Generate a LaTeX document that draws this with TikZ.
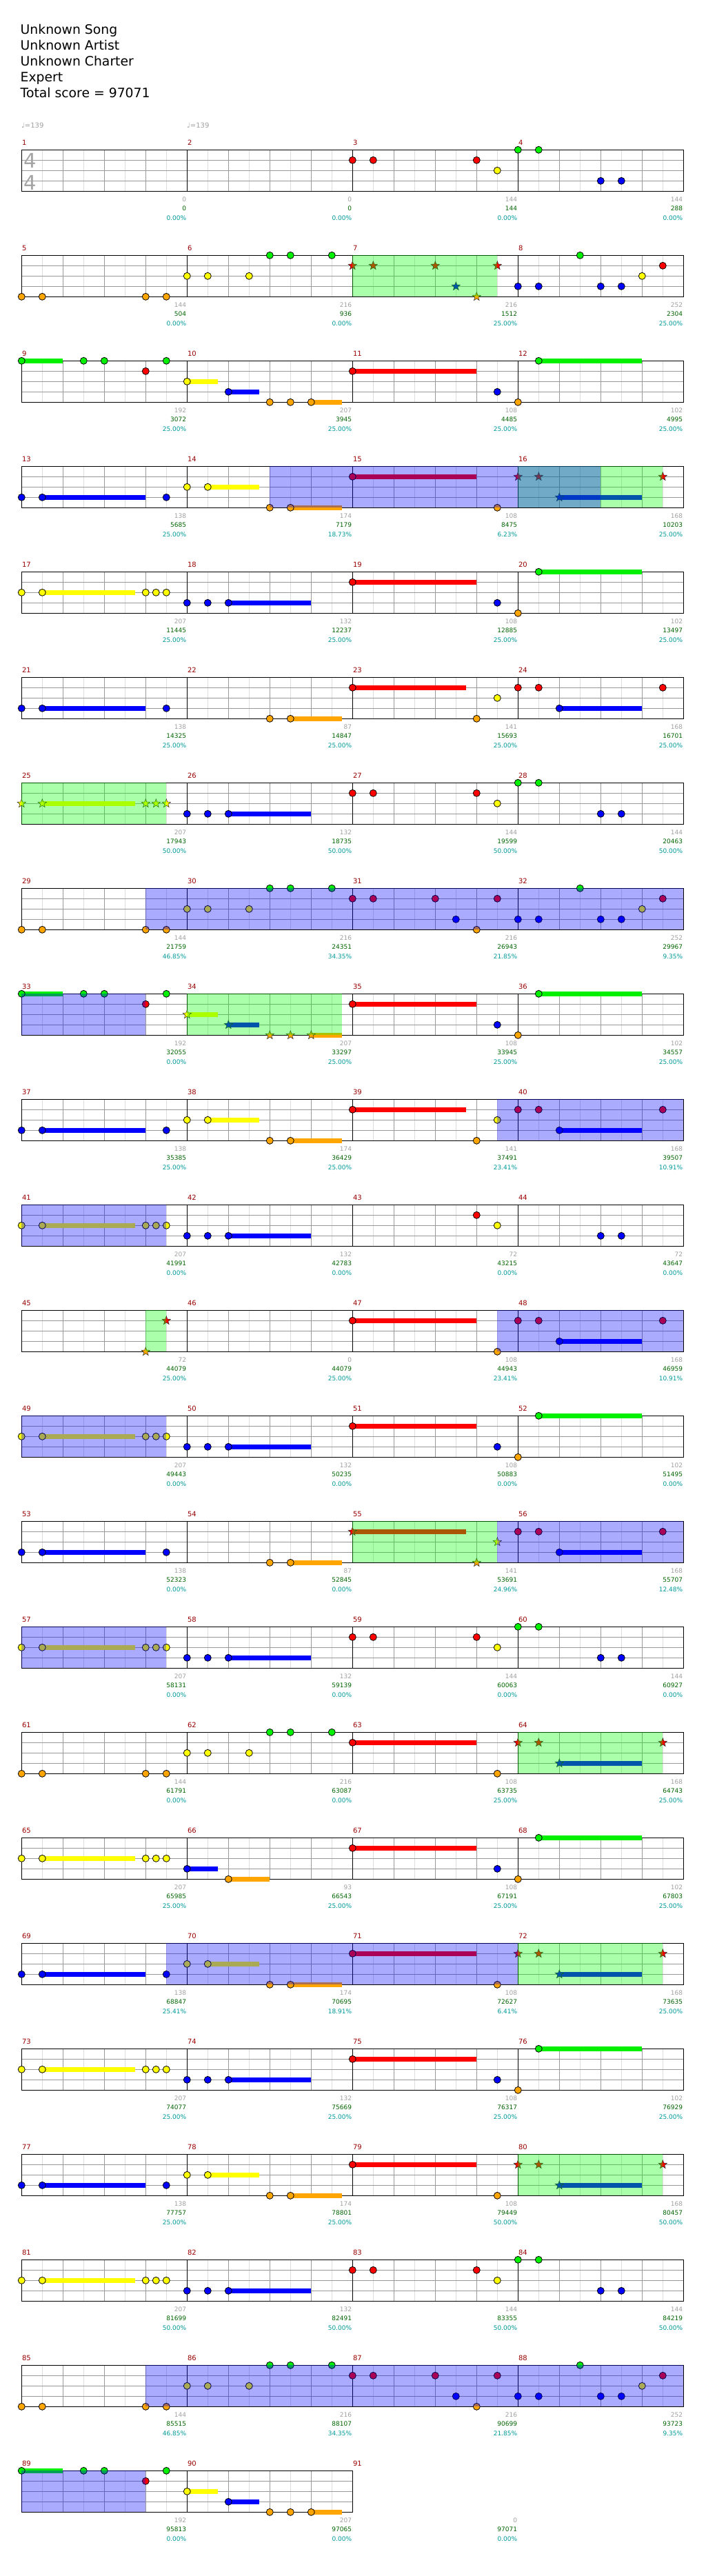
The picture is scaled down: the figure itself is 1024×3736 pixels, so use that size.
\documentclass[tikz,border=0pt]{standalone}
\usepackage{fontspec}
\setmainfont{DejaVu Sans}
\usetikzlibrary{shapes.geometric}
\definecolor{lane0}{RGB}{0,240,0}
\definecolor{lane1}{RGB}{255,0,0}
\definecolor{lane2}{RGB}{255,255,0}
\definecolor{lane3}{RGB}{0,0,255}
\definecolor{lane4}{RGB}{255,165,0}
\definecolor{gridlt}{RGB}{221,221,221}
\definecolor{griddk}{RGB}{153,153,153}
\definecolor{mnumc}{RGB}{153,0,0}
\definecolor{cntc}{RGB}{160,160,160}
\definecolor{scrc}{RGB}{0,100,0}
\definecolor{pctc}{RGB}{0,153,153}
\definecolor{ovG}{RGB}{0,255,0}
\definecolor{ovB}{RGB}{0,0,255}
\definecolor{tsig}{RGB}{165,165,165}
\tikzset{
  notec/.style={circle, draw=black, line width=0.8pt, inner sep=0pt, minimum size=10pt},
  starn/.style={star, star points=5, star point ratio=2.4, draw=black!85, line width=0.5pt, inner sep=0pt, minimum size=13pt},
  mnum/.style={text=mnumc, font=\fontsize{10}{12}\selectfont, inner sep=0pt, anchor=base west},
  cntf/.style={text=cntc, font=\fontsize{9}{10}\selectfont, inner sep=0pt, anchor=base east},
  scrf/.style={text=scrc, font=\fontsize{9}{10}\selectfont, inner sep=0pt, anchor=base east},
  pctf/.style={text=pctc, font=\fontsize{9}{10}\selectfont, inner sep=0pt, anchor=base east},
  hdr/.style={font=\fontsize{18.8}{22}\selectfont, inner sep=0pt, anchor=base west},
  tempof/.style={text=cntc, font=\fontsize{10}{12}\selectfont, inner sep=0pt, anchor=base west},
  tsigf/.style={text=tsig, font=\fontsize{29}{30}\selectfont, inner sep=0pt, anchor=base west},
  gl/.style={line width=1pt}
}
\newcount\nodecnt
\def\RT{0}
\newcommand\SetRow[1]{\pgfmathsetmacro\RT{217.3+153*(#1-1)}}
\newcommand\Nt[2]{\global\advance\nodecnt by 1\relax
  \node[notec, fill=lane#1] (n\the\nodecnt) at ({31.3+30*#2},{\RT+15*#1}) {};}
\newcommand\St[2]{\global\advance\nodecnt by 1\relax
  \node[starn, fill=lane#1] (n\the\nodecnt) at ({31.3+30*#2},{\RT+15*#1}) {};}
\newcommand\Su[3]{\fill[lane#1] ({31.3+30*#2},{\RT+15*#1-3.4}) rectangle ({31.3+30*#3},{\RT+15*#1+3.4});}
\newcommand\Ov[3]{\fill[ov#1, fill opacity=0.333] ({31.3+30*#2},\RT) rectangle ({31.3+30*#3},{\RT+60});}
\newcommand\Nums[4]{\global\advance\nodecnt by 1\relax
  \node[cntf] (c\the\nodecnt) at ({31.3+240*#1-1},{\RT+75.2}) {#2};
  \node[scrf] (s\the\nodecnt) at ({31.3+240*#1-1},{\RT+88.4}) {#3};
  \node[pctf] (p\the\nodecnt) at ({31.3+240*#1-1},{\RT+101.7}) {#4\%};}
\newcommand\Staff[2]{%
  \pgfmathsetmacro\xe{31.3+240*#2}%
  \pgfmathtruncatemacro\ne{8*#2}%
  \pgfmathtruncatemacro\nl{8*#2-1}%
  \pgfmathtruncatemacro\nk{8*#2-2}%
  \pgfmathtruncatemacro\nm{#2-1}%
  \foreach \i in {1,3,...,\nl} {\draw[gridlt, gl] ({31.3+30*\i},\RT) -- ({31.3+30*\i},{\RT+60});}
  \foreach \k in {1,2,3} {\draw[griddk, gl] (31.3,{\RT+15*\k}) -- (\xe,{\RT+15*\k});}
  \foreach \i in {2,4,...,\nk} {\draw[griddk, gl] ({31.3+30*\i},\RT) -- ({31.3+30*\i},{\RT+60});}
  \foreach \i in {0,8,...,\ne} {\draw[black, gl] ({31.3+30*\i},\RT) -- ({31.3+30*\i},{\RT+60});}
  \draw[black, gl] (31.3,\RT) rectangle (\xe,{\RT+60});
  \foreach \j in {0,...,\nm} {\pgfmathtruncatemacro\mn{#1+\j}
    \node[mnum] (m\mn) at ({31.3+240*\j+0.5},{\RT-6.6}) {\mn};}
}
\begin{document}
\begin{tikzpicture}[x=1pt,y=-1pt]
\fill[white] (0,0) rectangle (1024,3736);
\useasboundingbox (0,0) rectangle (1024,3736);
\node[hdr] (h1) at (29.5,50) {Unknown Song};
\node[hdr] (h2) at (29.5,72.7) {Unknown Artist};
\node[hdr] (h3) at (29.5,95.5) {Unknown Charter};
\node[hdr] (h4) at (29.5,118.3) {Expert};
\node[hdr] (h5) at (29.5,141.5) {Total score = 97071};
\node[tempof] (t1) at (31,185) {♩=139};
\node[tempof] (t2) at (271,185) {♩=139};
% ---------- row 1
\SetRow{1}\Staff{1}{4}
\node[tsigf] (ts1) at (34.3,{\RT+26}) {4};
\node[tsigf] (ts2) at (34.3,{\RT+57.7}) {4};
\Nt1{16}\Nt1{17}\Nt1{22}\Nt2{23}\Nt0{24}\Nt0{25}\Nt3{28}\Nt3{29}
\Nums{1}{0}{0}{0.00}\Nums{2}{0}{0}{0.00}\Nums{3}{144}{144}{0.00}\Nums{4}{144}{288}{0.00}
% ---------- row 2
\SetRow{2}\Staff{5}{4}
\Nt4{0}\Nt4{1}\Nt4{6}\Nt4{7}\Nt2{8}\Nt2{9}\Nt2{11}\Nt0{12}\Nt0{13}\Nt0{15}
\St1{16}\St1{17}\St1{20}\St3{21}\St4{22}\St1{23}
\Nt3{24}\Nt3{25}\Nt0{27}\Nt3{28}\Nt3{29}\Nt2{30}\Nt1{31}
\Ov{G}{16}{23}
\Nums{1}{144}{504}{0.00}\Nums{2}{216}{936}{0.00}\Nums{3}{216}{1512}{25.00}\Nums{4}{252}{2304}{25.00}
% ---------- row 3
\SetRow{3}\Staff{9}{4}
\Su0{0}{2}\Nt0{0}\Nt0{3}\Nt0{4}\Nt0{7}\Nt1{6}\Su2{8}{9.5}\Nt2{8}\Su3{10}{11.5}\Nt3{10}
\Nt4{12}\Nt4{13}\Su4{14}{15.5}\Nt4{14}\Su1{16}{22}\Nt1{16}\Nt3{23}\Nt4{24}\Su0{25}{30}\Nt0{25}
\Nums{1}{192}{3072}{25.00}\Nums{2}{207}{3945}{25.00}\Nums{3}{108}{4485}{25.00}\Nums{4}{102}{4995}{25.00}
% ---------- row 4
\SetRow{4}\Staff{13}{4}
\Su3{1}{6}\Nt3{0}\Nt3{1}\Nt3{7}\Nt2{8}\Su2{9}{11.5}\Nt2{9}\Nt4{12}\Su4{13}{15.5}\Nt4{13}
\Su1{16}{22}\Nt1{16}\Nt4{23}\St1{24}\St1{25}\St1{31}\Su3{26}{30}\St3{26}
\Ov{G}{24}{31}\Ov{B}{12}{28}
\Nums{1}{138}{5685}{25.00}\Nums{2}{174}{7179}{18.73}\Nums{3}{108}{8475}{6.23}\Nums{4}{168}{10203}{25.00}
% ---------- row 5
\SetRow{5}\Staff{17}{4}
\Nt2{0}\Su2{1}{5.5}\Nt2{1}\Nt2{6}\Nt2{6.5}\Nt2{7}\Nt3{8}\Nt3{9}\Su3{10}{14}\Nt3{10}
\Su1{16}{22}\Nt1{16}\Nt3{23}\Nt4{24}\Su0{25}{30}\Nt0{25}
\Nums{1}{207}{11445}{25.00}\Nums{2}{132}{12237}{25.00}\Nums{3}{108}{12885}{25.00}\Nums{4}{102}{13497}{25.00}
% ---------- row 6
\SetRow{6}\Staff{21}{4}
\Nt3{0}\Su3{1}{6}\Nt3{1}\Nt3{7}\Nt4{12}\Su4{13}{15.5}\Nt4{13}
\Su1{16}{21.5}\Nt1{16}\Nt4{22}\Nt2{23}\Nt1{24}\Nt1{25}\Nt1{31}\Su3{26}{30}\Nt3{26}
\Nums{1}{138}{14325}{25.00}\Nums{2}{87}{14847}{25.00}\Nums{3}{141}{15693}{25.00}\Nums{4}{168}{16701}{25.00}
% ---------- row 7
\SetRow{7}\Staff{25}{4}
\St2{0}\Su2{1}{5.5}\St2{1}\St2{6}\St2{6.5}\St2{7}\Nt3{8}\Nt3{9}\Su3{10}{14}\Nt3{10}
\Nt1{16}\Nt1{17}\Nt1{22}\Nt2{23}\Nt0{24}\Nt0{25}\Nt3{28}\Nt3{29}
\Ov{G}{0}{7}
\Nums{1}{207}{17943}{50.00}\Nums{2}{132}{18735}{50.00}\Nums{3}{144}{19599}{50.00}\Nums{4}{144}{20463}{50.00}
% ---------- row 8
\SetRow{8}\Staff{29}{4}
\Nt4{0}\Nt4{1}\Nt4{6}\Nt4{7}\Nt2{8}\Nt2{9}\Nt2{11}\Nt0{12}\Nt0{13}\Nt0{15}
\Nt1{16}\Nt1{17}\Nt1{20}\Nt3{21}\Nt4{22}\Nt1{23}
\Nt3{24}\Nt3{25}\Nt0{27}\Nt3{28}\Nt3{29}\Nt2{30}\Nt1{31}
\Ov{B}{6}{32}
\Nums{1}{144}{21759}{46.85}\Nums{2}{216}{24351}{34.35}\Nums{3}{216}{26943}{21.85}\Nums{4}{252}{29967}{9.35}
% ---------- row 9
\SetRow{9}\Staff{33}{4}
\Su0{0}{2}\Nt0{0}\Nt0{3}\Nt0{4}\Nt0{7}\Nt1{6}\Su2{8}{9.5}\St2{8}\Su3{10}{11.5}\St3{10}
\St4{12}\St4{13}\Su4{14}{15.5}\St4{14}\Su1{16}{22}\Nt1{16}\Nt3{23}\Nt4{24}\Su0{25}{30}\Nt0{25}
\Ov{G}{8}{15.5}\Ov{B}{0}{6}
\Nums{1}{192}{32055}{0.00}\Nums{2}{207}{33297}{25.00}\Nums{3}{108}{33945}{25.00}\Nums{4}{102}{34557}{25.00}
% ---------- row 10
\SetRow{10}\Staff{37}{4}
\Nt3{0}\Su3{1}{6}\Nt3{1}\Nt3{7}\Nt2{8}\Su2{9}{11.5}\Nt2{9}\Nt4{12}\Su4{13}{15.5}\Nt4{13}
\Su1{16}{21.5}\Nt1{16}\Nt4{22}\Nt2{23}\Nt1{24}\Nt1{25}\Nt1{31}\Su3{26}{30}\Nt3{26}
\Ov{B}{23}{32}
\Nums{1}{138}{35385}{25.00}\Nums{2}{174}{36429}{25.00}\Nums{3}{141}{37491}{23.41}\Nums{4}{168}{39507}{10.91}
% ---------- row 11
\SetRow{11}\Staff{41}{4}
\Nt2{0}\Su2{1}{5.5}\Nt2{1}\Nt2{6}\Nt2{6.5}\Nt2{7}\Nt3{8}\Nt3{9}\Su3{10}{14}\Nt3{10}
\Nt1{22}\Nt2{23}\Nt3{28}\Nt3{29}
\Ov{B}{0}{7}
\Nums{1}{207}{41991}{0.00}\Nums{2}{132}{42783}{0.00}\Nums{3}{72}{43215}{0.00}\Nums{4}{72}{43647}{0.00}
% ---------- row 12
\SetRow{12}\Staff{45}{4}
\St4{6}\St1{7}\Su1{16}{22}\Nt1{16}\Nt4{23}\Nt1{24}\Nt1{25}\Nt1{31}\Su3{26}{30}\Nt3{26}
\Ov{G}{6}{7}\Ov{B}{23}{32}
\Nums{1}{72}{44079}{25.00}\Nums{2}{0}{44079}{25.00}\Nums{3}{108}{44943}{23.41}\Nums{4}{168}{46959}{10.91}
% ---------- row 13
\SetRow{13}\Staff{49}{4}
\Nt2{0}\Su2{1}{5.5}\Nt2{1}\Nt2{6}\Nt2{6.5}\Nt2{7}\Nt3{8}\Nt3{9}\Su3{10}{14}\Nt3{10}
\Su1{16}{22}\Nt1{16}\Nt3{23}\Nt4{24}\Su0{25}{30}\Nt0{25}
\Ov{B}{0}{7}
\Nums{1}{207}{49443}{0.00}\Nums{2}{132}{50235}{0.00}\Nums{3}{108}{50883}{0.00}\Nums{4}{102}{51495}{0.00}
% ---------- row 14
\SetRow{14}\Staff{53}{4}
\Nt3{0}\Su3{1}{6}\Nt3{1}\Nt3{7}\Nt4{12}\Su4{13}{15.5}\Nt4{13}
\Su1{16}{21.5}\St1{16}\St4{22}\St2{23}\Nt1{24}\Nt1{25}\Nt1{31}\Su3{26}{30}\Nt3{26}
\Ov{G}{16}{23}\Ov{B}{23}{32}
\Nums{1}{138}{52323}{0.00}\Nums{2}{87}{52845}{0.00}\Nums{3}{141}{53691}{24.96}\Nums{4}{168}{55707}{12.48}
% ---------- row 15
\SetRow{15}\Staff{57}{4}
\Nt2{0}\Su2{1}{5.5}\Nt2{1}\Nt2{6}\Nt2{6.5}\Nt2{7}\Nt3{8}\Nt3{9}\Su3{10}{14}\Nt3{10}
\Nt1{16}\Nt1{17}\Nt1{22}\Nt2{23}\Nt0{24}\Nt0{25}\Nt3{28}\Nt3{29}
\Ov{B}{0}{7}
\Nums{1}{207}{58131}{0.00}\Nums{2}{132}{59139}{0.00}\Nums{3}{144}{60063}{0.00}\Nums{4}{144}{60927}{0.00}
% ---------- row 16
\SetRow{16}\Staff{61}{4}
\Nt4{0}\Nt4{1}\Nt4{6}\Nt4{7}\Nt2{8}\Nt2{9}\Nt2{11}\Nt0{12}\Nt0{13}\Nt0{15}
\Su1{16}{22}\Nt1{16}\Nt4{23}\St1{24}\St1{25}\St1{31}\Su3{26}{30}\St3{26}
\Ov{G}{24}{31}
\Nums{1}{144}{61791}{0.00}\Nums{2}{216}{63087}{0.00}\Nums{3}{108}{63735}{25.00}\Nums{4}{168}{64743}{25.00}
% ---------- row 17
\SetRow{17}\Staff{65}{4}
\Nt2{0}\Su2{1}{5.5}\Nt2{1}\Nt2{6}\Nt2{6.5}\Nt2{7}\Su3{8}{9.5}\Nt3{8}\Su4{10}{12}\Nt4{10}
\Su1{16}{22}\Nt1{16}\Nt3{23}\Nt4{24}\Su0{25}{30}\Nt0{25}
\Nums{1}{207}{65985}{25.00}\Nums{2}{93}{66543}{25.00}\Nums{3}{108}{67191}{25.00}\Nums{4}{102}{67803}{25.00}
% ---------- row 18
\SetRow{18}\Staff{69}{4}
\Su3{1}{6}\Nt3{0}\Nt3{1}\Nt3{7}\Nt2{8}\Su2{9}{11.5}\Nt2{9}\Nt4{12}\Su4{13}{15.5}\Nt4{13}
\Su1{16}{22}\Nt1{16}\Nt4{23}\St1{24}\St1{25}\St1{31}\Su3{26}{30}\St3{26}
\Ov{G}{24}{31}\Ov{B}{7}{24}
\Nums{1}{138}{68847}{25.41}\Nums{2}{174}{70695}{18.91}\Nums{3}{108}{72627}{6.41}\Nums{4}{168}{73635}{25.00}
% ---------- row 19
\SetRow{19}\Staff{73}{4}
\Nt2{0}\Su2{1}{5.5}\Nt2{1}\Nt2{6}\Nt2{6.5}\Nt2{7}\Nt3{8}\Nt3{9}\Su3{10}{14}\Nt3{10}
\Su1{16}{22}\Nt1{16}\Nt3{23}\Nt4{24}\Su0{25}{30}\Nt0{25}
\Nums{1}{207}{74077}{25.00}\Nums{2}{132}{75669}{25.00}\Nums{3}{108}{76317}{25.00}\Nums{4}{102}{76929}{25.00}
% ---------- row 20
\SetRow{20}\Staff{77}{4}
\Su3{1}{6}\Nt3{0}\Nt3{1}\Nt3{7}\Nt2{8}\Su2{9}{11.5}\Nt2{9}\Nt4{12}\Su4{13}{15.5}\Nt4{13}
\Su1{16}{22}\Nt1{16}\Nt4{23}\St1{24}\St1{25}\St1{31}\Su3{26}{30}\St3{26}
\Ov{G}{24}{31}
\Nums{1}{138}{77757}{25.00}\Nums{2}{174}{78801}{25.00}\Nums{3}{108}{79449}{50.00}\Nums{4}{168}{80457}{50.00}
% ---------- row 21
\SetRow{21}\Staff{81}{4}
\Nt2{0}\Su2{1}{5.5}\Nt2{1}\Nt2{6}\Nt2{6.5}\Nt2{7}\Nt3{8}\Nt3{9}\Su3{10}{14}\Nt3{10}
\Nt1{16}\Nt1{17}\Nt1{22}\Nt2{23}\Nt0{24}\Nt0{25}\Nt3{28}\Nt3{29}
\Nums{1}{207}{81699}{50.00}\Nums{2}{132}{82491}{50.00}\Nums{3}{144}{83355}{50.00}\Nums{4}{144}{84219}{50.00}
% ---------- row 22
\SetRow{22}\Staff{85}{4}
\Nt4{0}\Nt4{1}\Nt4{6}\Nt4{7}\Nt2{8}\Nt2{9}\Nt2{11}\Nt0{12}\Nt0{13}\Nt0{15}
\Nt1{16}\Nt1{17}\Nt1{20}\Nt3{21}\Nt4{22}\Nt1{23}
\Nt3{24}\Nt3{25}\Nt0{27}\Nt3{28}\Nt3{29}\Nt2{30}\Nt1{31}
\Ov{B}{6}{32}
\Nums{1}{144}{85515}{46.85}\Nums{2}{216}{88107}{34.35}\Nums{3}{216}{90699}{21.85}\Nums{4}{252}{93723}{9.35}
% ---------- row 23
\SetRow{23}\Staff{89}{2}
\node[mnum] (m91) at ({31.3+480+0.5},{\RT-6.6}) {91};
\Su0{0}{2}\Nt0{0}\Nt0{3}\Nt0{4}\Nt0{7}\Nt1{6}\Su2{8}{9.5}\Nt2{8}\Su3{10}{11.5}\Nt3{10}
\Nt4{12}\Nt4{13}\Su4{14}{15.5}\Nt4{14}
\Ov{B}{0}{6}
\Nums{1}{192}{95813}{0.00}\Nums{2}{207}{97065}{0.00}\Nums{3}{0}{97071}{0.00}
\end{tikzpicture}
\end{document}
